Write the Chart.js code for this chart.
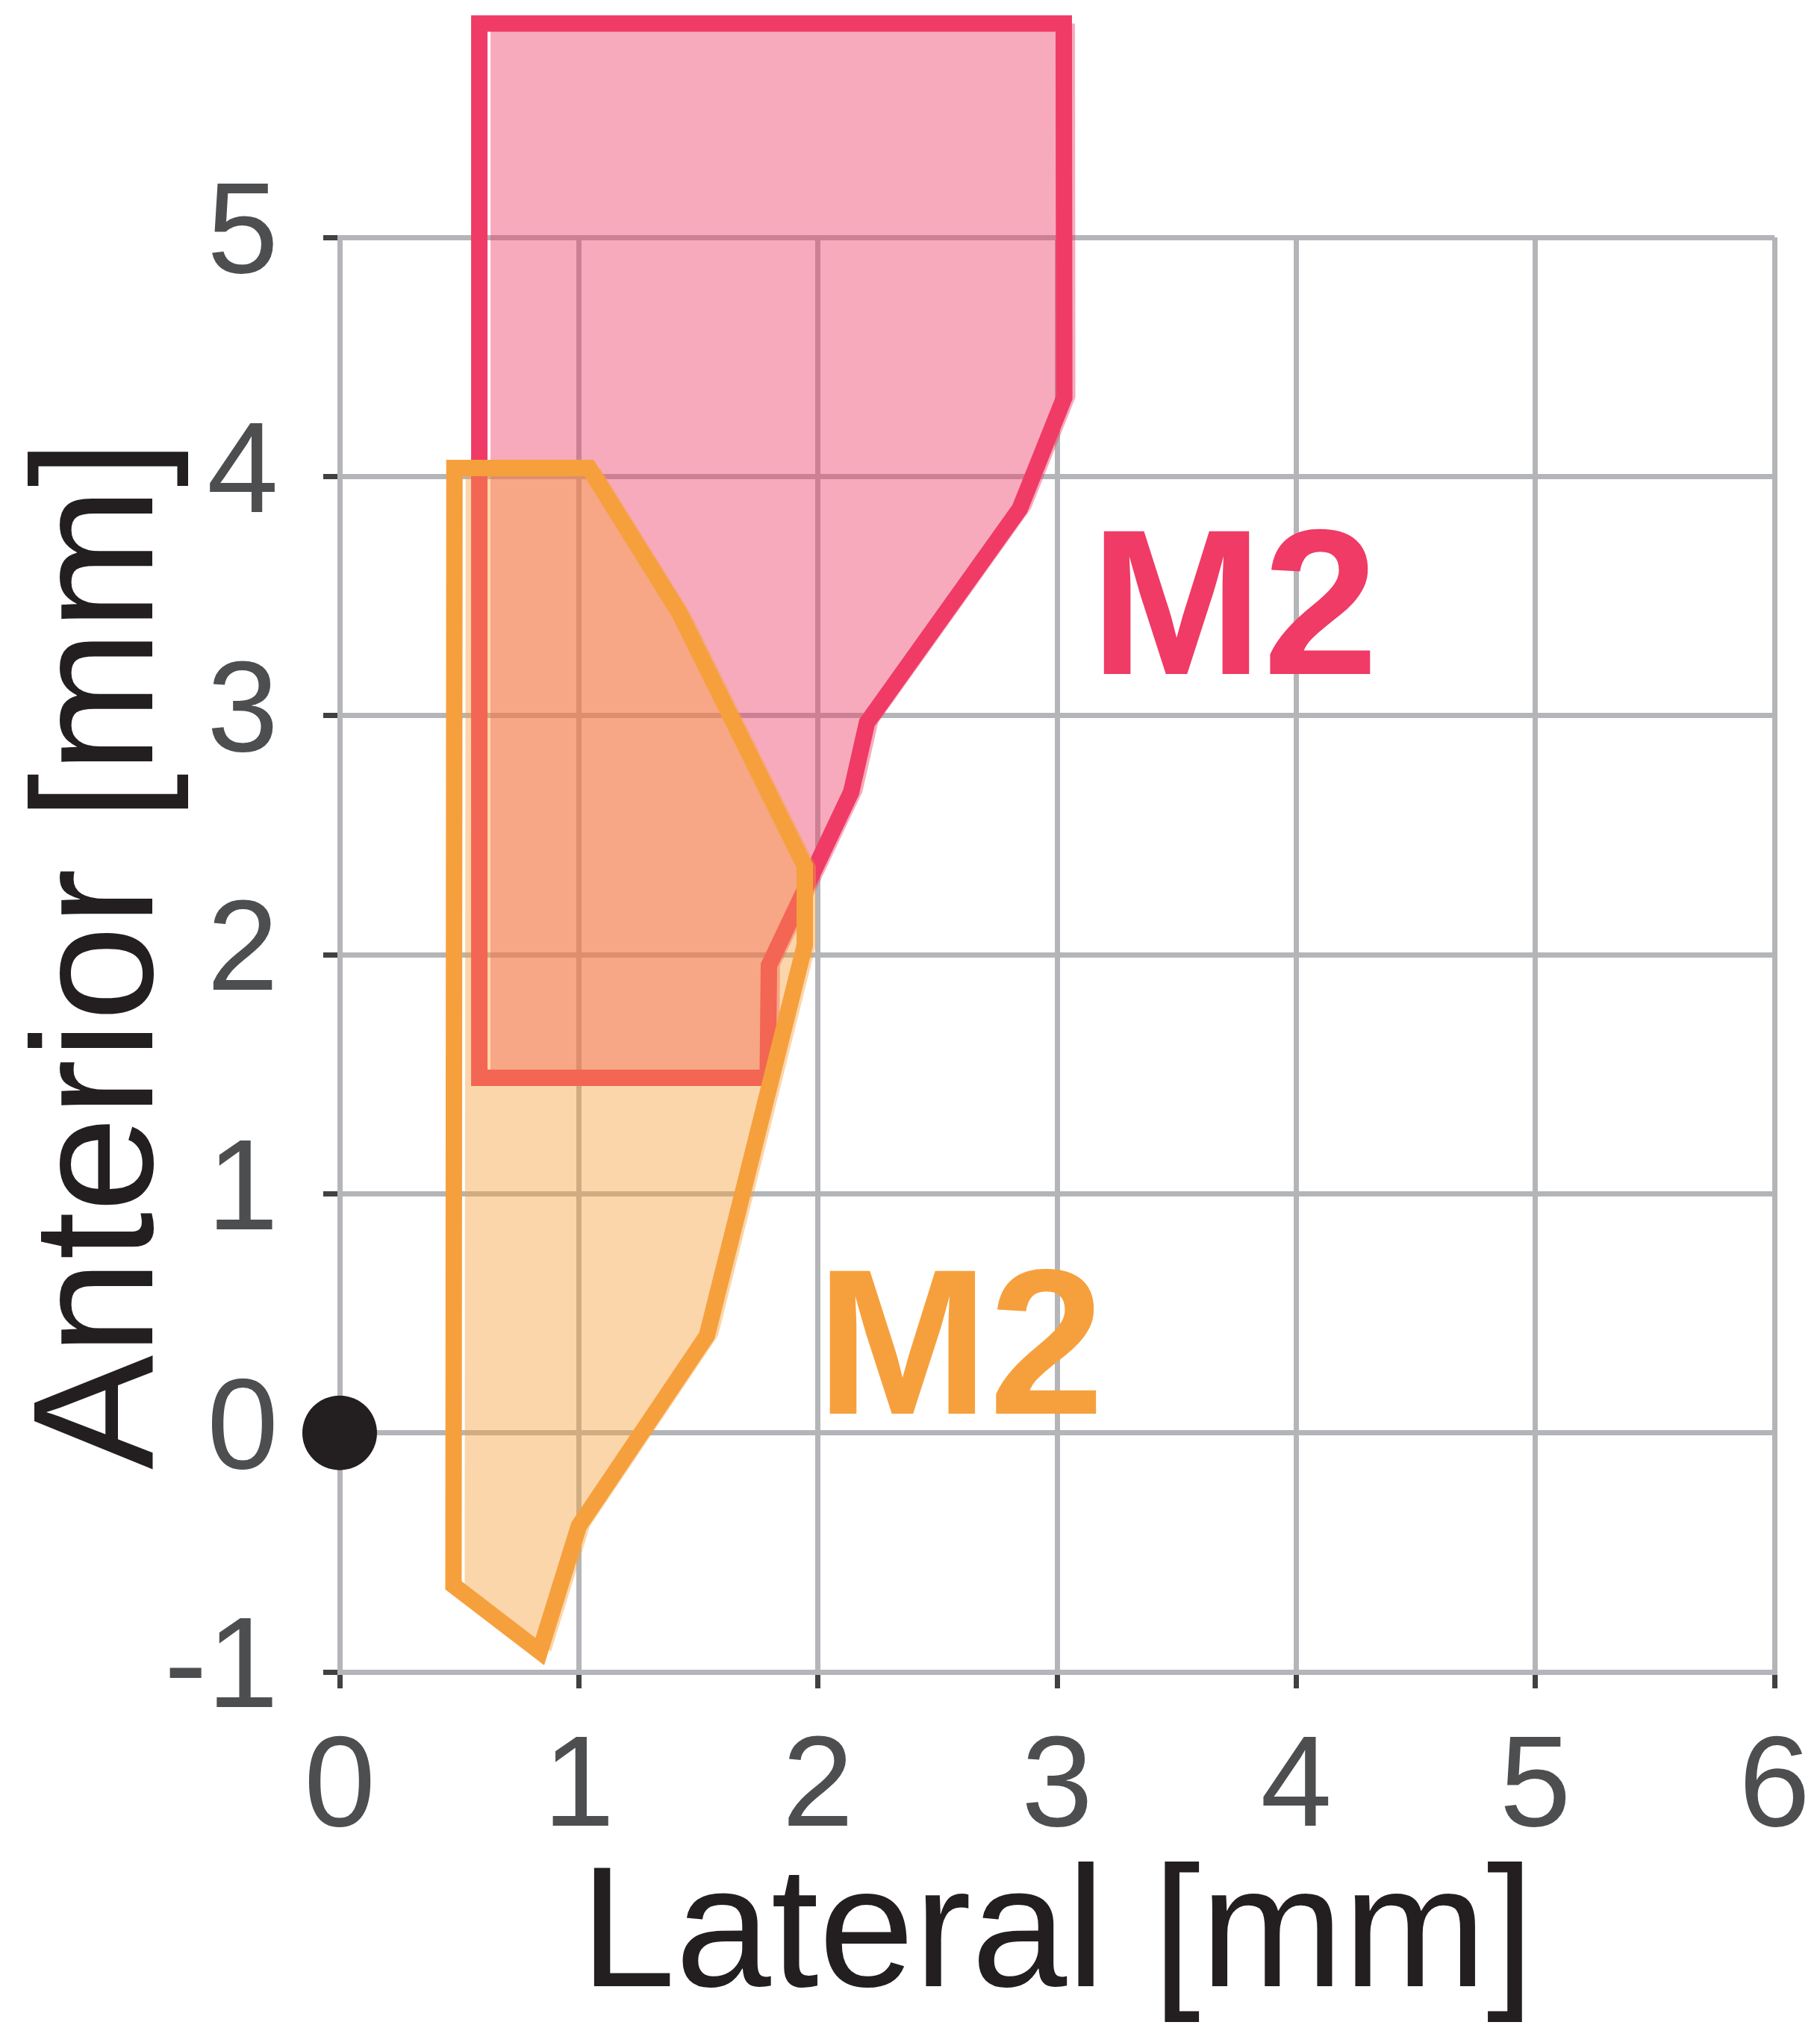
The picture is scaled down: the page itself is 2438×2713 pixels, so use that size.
<!DOCTYPE html>
<html>
<head>
<meta charset="utf-8">
<script src="https://cdn.jsdelivr.net/npm/chart.js@4.4.1/dist/chart.umd.min.js"></script>
<style>
    html, body { margin: 0; padding: 0; background: #fff; overflow: hidden; }
    canvas { display: block; }
</style>
</head>
<body>
<canvas id="areaChart" width="2438" height="2713"></canvas>
<script>
// outlines of the two M2 regions, lateral / anterior in mm
const pinkLateral = [0.584, 3.028, 3.03, 2.844, 2.205, 2.139, 1.795, 1.79, 0.584, 0.584];
const pinkAnterior = [5.894, 5.894, 4.33, 3.865, 2.97, 2.68, 1.955, 1.485, 1.485, 5.894];

const orangeLateral = [0.48, 1.043, 1.42, 1.945, 1.945, 1.536, 1.0, 0.837, 0.476, 0.48];
const orangeAnterior = [4.035, 4.035, 3.43, 2.37, 2.04, 0.407, -0.39, -0.915, -0.638, 4.035];

// bregma
const originLateral = [0];
const originAnterior = [0];

const xTicks = [0, 1, 2, 3, 4, 5, 6];
const yTicks = [-1, 0, 1, 2, 3, 4, 5];

const areaNames = ['M2', 'M2'];
const nameLateral = [3.138, 1.992];
const nameAnterior = [3.174, 0.08];

const PINK = '#EF3B65';
const ORANGE = '#F6A03D';
const FILL_SHIFT = 15;

function toPoints(xs, ys) {
    return xs.map((x, i) => ({ x: x, y: ys[i] }));
}

const regionPlugin = {
    id: 'regionPlugin',
    beforeDatasetDraw(chart, args) {
        const ds = chart.data.datasets[args.index];
        if (!ds.areaColor) return;
        const ctx = chart.ctx;
        const pts = args.meta.data;
        ctx.save();
        ctx.beginPath();
        pts.forEach((p, i) => {
            if (i === 0) ctx.moveTo(p.x + FILL_SHIFT, p.y);
            else ctx.lineTo(p.x + FILL_SHIFT, p.y);
        });
        ctx.closePath();
        ctx.fillStyle = ds.areaColor;
        ctx.fill();
        ctx.restore();
    },
    afterDatasetsDraw(chart) {
        const ctx = chart.ctx;
        const xs = chart.scales.x;
        const ys = chart.scales.y;
        const colors = [PINK, ORANGE];
        ctx.save();
        ctx.font = 'bold 278px "Liberation Sans", Arial, sans-serif';
        ctx.textAlign = 'left';
        ctx.textBaseline = 'alphabetic';
        areaNames.forEach((name, i) => {
            ctx.fillStyle = colors[i];
            ctx.fillText(name, xs.getPixelForValue(nameLateral[i]), ys.getPixelForValue(nameAnterior[i]));
        });
        ctx.restore();
    }
};

document.addEventListener('DOMContentLoaded', function () {

    const canvas = document.getElementById('areaChart');

    new Chart(canvas, {
        type: 'scatter',
        data: {
            datasets: [
                {
                    label: 'origin',
                    data: toPoints(originLateral, originAnterior),
                    pointRadius: 50,
                    pointBackgroundColor: '#231F20',
                    pointBorderWidth: 0,
                    showLine: false,
                    clip: false,
                    order: 0
                },
                {
                    label: 'M2 orange',
                    data: toPoints(orangeLateral, orangeAnterior),
                    showLine: true,
                    borderColor: ORANGE,
                    borderWidth: 22,
                    borderJoinStyle: 'miter',
                    borderCapStyle: 'square',
                    areaColor: 'rgba(246,160,61,0.43)',
                    pointRadius: 0,
                    tension: 0,
                    clip: false,
                    order: 1
                },
                {
                    label: 'M2 pink',
                    data: toPoints(pinkLateral, pinkAnterior),
                    showLine: true,
                    borderColor: PINK,
                    borderWidth: 22,
                    borderJoinStyle: 'miter',
                    borderCapStyle: 'square',
                    areaColor: 'rgba(239,59,101,0.43)',
                    pointRadius: 0,
                    tension: 0,
                    clip: false,
                    order: 2
                }
            ]
        },
        options: {
            responsive: false,
            animation: false,
            events: [],
            devicePixelRatio: 1,
            layout: {
                padding: { top: 318, right: 61, bottom: 0, left: 0 }
            },
            plugins: {
                legend: { display: false },
                tooltip: { enabled: false }
            },
            scales: {
                x: {
                    type: 'linear',
                    min: 0,
                    max: 6,
                    afterBuildTicks: (scale) => { scale.ticks = xTicks.map(v => ({ value: v })); },
                    afterFit: (scale) => {
                        scale.height = 473;
                        // let the "6" hang into the right margin
                        scale.paddingRight = 0;
                    },
                    grid: {
                        color: '#B4B5B8',
                        lineWidth: 7,
                        tickColor: '#414042',
                        tickWidth: 7,
                        tickLength: 22
                    },
                    border: { color: '#B4B5B8', width: 7 },
                    ticks: {
                        color: '#4D4E50',
                        padding: 33,
                        maxRotation: 0,
                        font: { family: '"Liberation Sans", Arial, sans-serif', size: 172 },
                        callback: (v) => String(v)
                    },
                    title: {
                        display: true,
                        text: 'Lateral [mm]',
                        color: '#231F20',
                        padding: 0,
                        font: { family: '"Liberation Sans", Arial, sans-serif', size: 230, lineHeight: 1 }
                    }
                },
                y: {
                    type: 'linear',
                    min: -1,
                    max: 5,
                    afterBuildTicks: (scale) => { scale.ticks = yTicks.map(v => ({ value: v })); },
                    afterFit: (scale) => { scale.width = 455; },
                    grid: {
                        color: '#B4B5B8',
                        lineWidth: 7,
                        tickColor: '#414042',
                        tickWidth: 7,
                        tickLength: 22
                    },
                    border: { color: '#B4B5B8', width: 7 },
                    ticks: {
                        color: '#4D4E50',
                        padding: 60,
                        font: { family: '"Liberation Sans", Arial, sans-serif', size: 172 },
                        callback: (v) => String(v)
                    },
                    title: {
                        display: true,
                        text: 'Anterior [mm]',
                        color: '#231F20',
                        padding: { top: 26, bottom: 0 },
                        font: { family: '"Liberation Sans", Arial, sans-serif', size: 230, lineHeight: 1 }
                    }
                }
            }
        },
        plugins: [regionPlugin]
    });

});
</script>
</body>
</html>
